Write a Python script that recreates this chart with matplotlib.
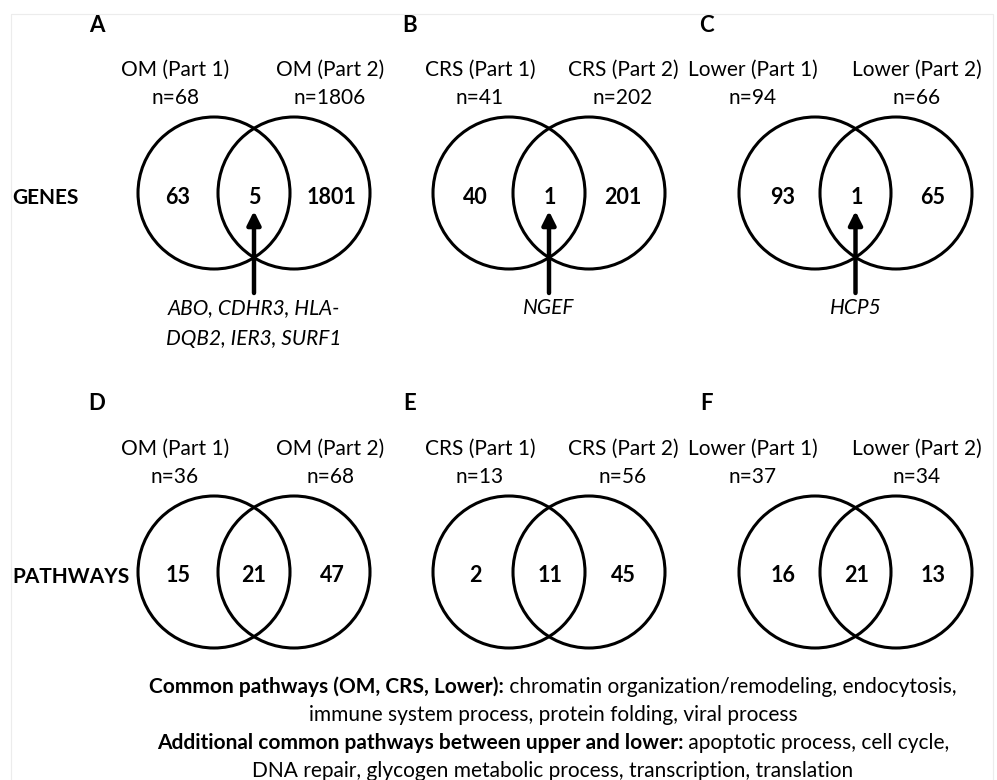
import matplotlib.pyplot as plt
from matplotlib.patches import Circle, Rectangle

plt.rcParams['font.family'] = ['Lato', 'DejaVu Sans']

# ---- data ----
panel_letters = ['A', 'B', 'C', 'D', 'E', 'F']
row_names = ['GENES', 'PATHWAYS']
set_labels = [('OM (Part 1)', 'OM (Part 2)'),
              ('CRS (Part 1)', 'CRS (Part 2)'),
              ('Lower (Part 1)', 'Lower (Part 2)')]
gene_n = [(68, 1806), (41, 202), (94, 66)]
gene_counts = [(63, 5, 1801), (40, 1, 201), (93, 1, 65)]
path_n = [(36, 68), (13, 56), (37, 34)]
path_counts = [(15, 21, 47), (2, 11, 45), (16, 21, 13)]
shared_genes = [['ABO, CDHR3, HLA-', 'DQB2, IER3, SURF1'], ['NGEF'], ['HCP5']]

footer = [
    [('Common pathways (OM, CRS, Lower):', 'bold'),
     (' chromatin organization/remodeling, endocytosis,', 'normal')],
    [('immune system process, protein folding, viral process', 'normal')],
    [('Additional common pathways between upper and lower:', 'bold'),
     (' apoptotic process, cell cycle,', 'normal')],
    [('DNA repair, glycogen metabolic process, transcription, translation', 'normal')],
]

# ---- layout (pixels) ----
W, H = 997, 780
centers_x = [(214, 294), (509, 589), (815, 896)]
label_x = [(175, 330), (480, 623), (753, 917)]
count_x = [(178, 254, 332), (475, 550, 623), (783, 857, 933)]
letter_x = [97, 410, 706]
row_cy = [193, 572]
R = 76
fs = 15

fig = plt.figure(figsize=(W / 100, H / 100), dpi=100)
ax = fig.add_axes([0, 0, 1, 1])
ax.set_xlim(0, W)
ax.set_ylim(H, 0)
ax.axis('off')

ax.add_patch(Rectangle((11, 14), 982, 800, fill=False, ec='#ececec', lw=0.8))

for row in range(2):
    cy = row_cy[row]
    ns = gene_n if row == 0 else path_n
    counts = gene_counts if row == 0 else path_counts
    ax.text(12, cy + 5, row_names[row], fontsize=fs, fontweight='bold',
            ha='left', va='center')
    for p in range(3):
        ax.text(letter_x[p], cy - 168, panel_letters[row * 3 + p], fontsize=fs + 1,
                fontweight='bold', ha='center', va='center')
        for k in range(2):
            ax.text(label_x[p][k], cy - 123, set_labels[p][k], fontsize=fs,
                    ha='center', va='center')
            ax.text(label_x[p][k], cy - 95, 'n=%d' % ns[p][k], fontsize=fs,
                    ha='center', va='center')
            ax.add_patch(Circle((centers_x[p][k], cy), R, fill=False,
                                ec='black', lw=2.2))
        for k in range(3):
            ax.text(count_x[p][k], cy + 4, str(counts[p][k]), fontsize=fs + 0.5,
                    fontweight='bold', ha='center', va='center')
        if row == 0:
            mx = (centers_x[p][0] + centers_x[p][1]) / 2
            ax.annotate('', xy=(mx, cy + 18), xytext=(mx, cy + 100),
                        arrowprops=dict(arrowstyle='-|>', lw=3.2, color='black',
                                        mutation_scale=20, shrinkA=0, shrinkB=0))
            for i, line in enumerate(shared_genes[p]):
                ax.text(mx, cy + 115 + 31 * i, line, fontsize=fs, style='italic',
                        ha='center', va='center')

# footer with mixed bold/regular text, centred per line
fig.canvas.draw()
r = fig.canvas.get_renderer()
base_y = [693, 721, 749, 777]
cx = 553
for i, parts in enumerate(footer):
    objs = []
    for txt, w in parts:
        t = ax.text(0, base_y[i], txt, fontsize=fs, fontweight=w,
                    ha='left', va='baseline')
        objs.append(t)
    widths = [t.get_window_extent(renderer=r).width for t in objs]
    x = cx - sum(widths) / 2
    for t, wd in zip(objs, widths):
        t.set_x(x)
        x += wd

fig.savefig('out.png', dpi=100)
